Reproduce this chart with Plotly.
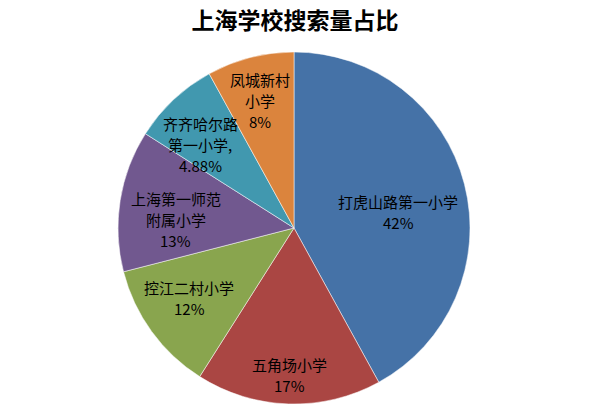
import math
import plotly.graph_objects as go

# datos del gráfico
schools = ["打虎山路第一小学", "五角场小学", "控江二村小学",
           "上海第一师范附属小学", "齐齐哈尔路第一小学", "凤城新村小学"]
shares = [42, 17, 12, 13, 8, 8]
label_lines = [["打虎山路第一小学", "42%"],
               ["五角场小学", "17%"],
               ["控江二村小学", "12%"],
               ["上海第一师范", "附属小学", "13%"],
               ["齐齐哈尔路", "第一小学,", "4.88%"],
               ["凤城新村", "小学", "8%"]]
colors = ["#4572A7", "#AA4643", "#89A54E", "#71588F", "#4198AF", "#DB843D"]

# geometría del pastel (px)
W, H = 603, 407
cx, cy, R = 294, 228, 176
label_radius = [0.60, 0.83, 0.72, 0.68, 0.71, 0.76]  # distancia de la etiqueta / R
label_nudge = [(2, 10), (0, 1), (-2, -4), (0, 10), (-8, 8), (-1, 2)]  # ajuste fino en px
line_gap = 21

fig = go.Figure(go.Pie(
    labels=schools,
    values=shares,
    textinfo="none",
    marker=dict(colors=colors, line=dict(color="rgba(255,255,255,0.5)", width=1)),
    sort=False,
    direction="clockwise",
    rotation=0,
    showlegend=False,
    hoverinfo="label+percent",
    domain=dict(x=[(cx - R) / W, (cx + R) / W], y=[(H - cy - R) / H, (H - cy + R) / H]),
))

# etiquetas dentro de cada sector, en el ángulo medio del sector
total = sum(shares)
acc = 0
for i, v in enumerate(shares):
    mid = (acc + v / 2) / total * 2 * math.pi
    acc += v
    r = label_radius[i] * R
    px = cx + r * math.sin(mid) + label_nudge[i][0]
    py = cy - r * math.cos(mid) + label_nudge[i][1]
    lines = label_lines[i]
    n = len(lines)
    for j, line in enumerate(lines):
        fig.add_annotation(
            x=px / W, y=1 - py / H, xref="paper", yref="paper",
            text=line, showarrow=False,
            yshift=-(j - (n - 1) / 2) * line_gap,
            xanchor="center", yanchor="middle",
            font=dict(family="Noto Sans CJK SC", size=15, color="black"),
        )

fig.update_layout(
    width=W, height=H,
    margin=dict(l=0, r=0, t=0, b=0),
    paper_bgcolor="white",
    title=dict(text="<b>上海学校搜索量占比</b>", x=295 / W, xanchor="center",
               y=1 - 21 / H, yanchor="middle",
               font=dict(family="Noto Sans CJK SC", size=23, color="black")),
)

# quitar el margen del body para que la figura quede en (0,0)
fig.write_html("out.html", config={"displayModeBar": False},
               post_script="document.body.style.margin='0';")
